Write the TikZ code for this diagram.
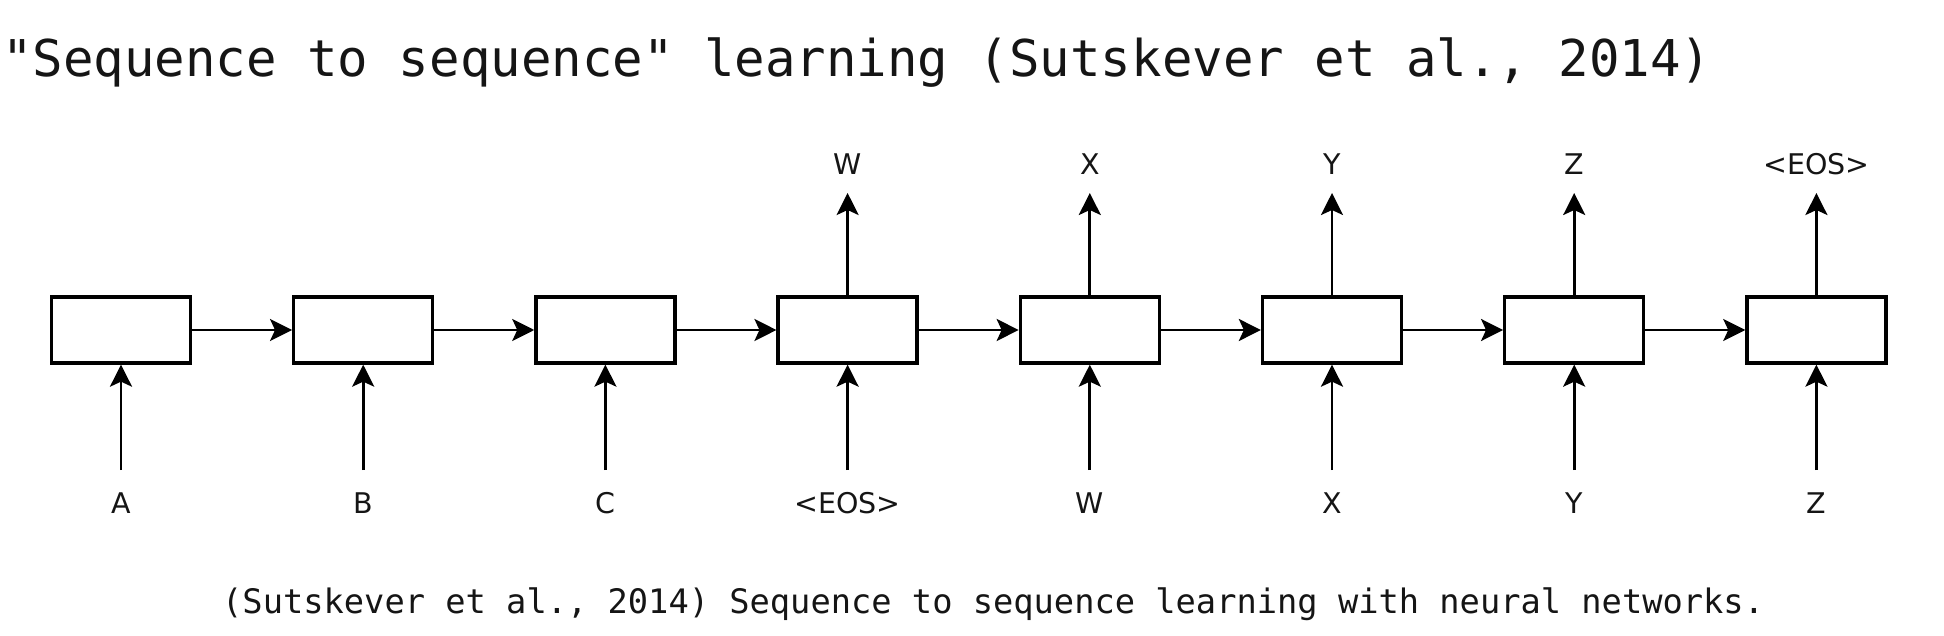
\documentclass[tikz,border=0pt]{standalone}
\usepackage{fontspec}
\usetikzlibrary{arrows.meta}
\newfontfamily\monofont{DejaVu Sans Mono}
\newfontfamily\lblfont{DejaVu Sans}
\definecolor{ink}{HTML}{151515}
\begin{document}
\begin{tikzpicture}[x=1pt,y=-1pt,
  cell/.style={draw=black,line width=3.3pt,rectangle,minimum width=139pt,minimum height=66pt,inner sep=0pt},
  arr/.style={line width=2.7pt,-{Stealth[length=22pt,width=22pt,inset=5pt]}},
  lbl/.style={inner sep=0pt,anchor=base,text=ink,font=\lblfont\fontsize{28.5}{32}\selectfont},
  titletext/.style={inner sep=0pt,anchor=base west,text=ink,font=\monofont\fontsize{50.7}{58}\selectfont},
  captext/.style={inner sep=0pt,anchor=base west,text=ink,font=\monofont\fontsize{33.7}{40}\selectfont}]
\useasboundingbox (0,0) rectangle (1944,636);
\fill[white] (0,0) rectangle (1944,636);
\node[titletext] (title) at (2,77) {"Sequence to sequence" learning (Sutskever et al., 2014)};
\node[captext] (caption) at (222,613) {(Sutskever et al., 2014) Sequence to sequence learning with neural networks.};
\foreach \i/\inp in {1/A,2/B,3/C,4/<EOS>,5/W,6/X,7/Y,8/Z}{
  \pgfmathsetmacro{\cx}{121+242.2*(\i-1)}
  \node[cell] (b\i) at (\cx,330) {};
  \coordinate (s\i) at (\cx,470);
  \node[lbl] (in\i) at (\cx,513) {\inp};
  \draw[arr] (s\i) -- (b\i.south);
}
\foreach \i/\outp in {4/W,5/X,6/Y,7/Z,8/<EOS>}{
  \pgfmathsetmacro{\cx}{121+242.2*(\i-1)}
  \coordinate (t\i) at (\cx,193);
  \node[lbl] (out\i) at (\cx,175) {\outp};
  \draw[arr] (b\i.north) -- (t\i);
}
\foreach \i/\j in {1/2,2/3,3/4,4/5,5/6,6/7,7/8}{
  \draw[arr] (b\i.east) -- (b\j.west);
}
\end{tikzpicture}
\end{document}
